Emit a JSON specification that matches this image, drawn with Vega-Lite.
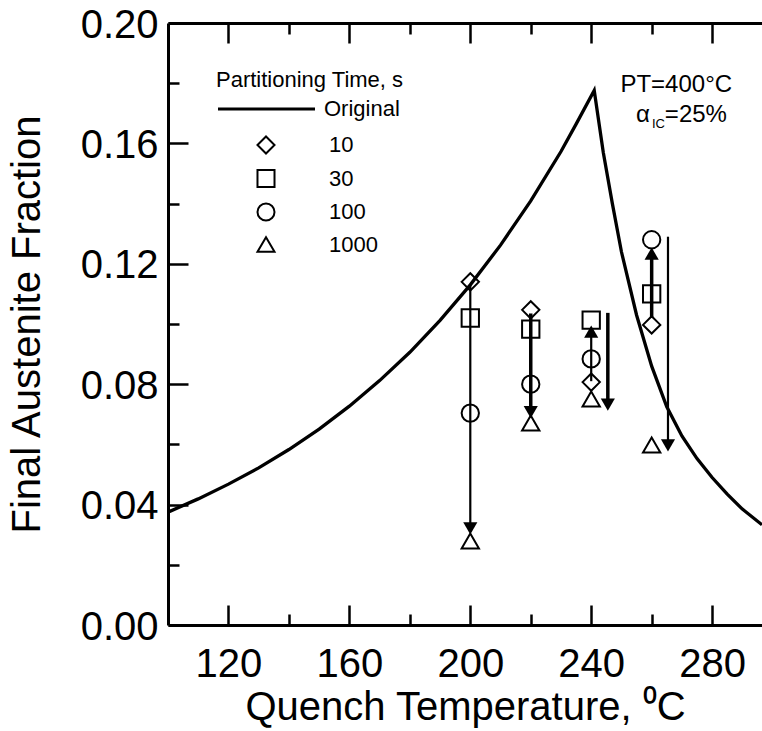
{
  "$schema": "https://vega.github.io/schema/vega-lite/v6.json",
  "width": 594,
  "height": 602,
  "autosize": {"type": "none"},
  "padding": {"left": 168, "top": 23, "right": 0, "bottom": 106},
  "background": "white",
  "config": {
    "view": {"stroke": null},
    "font": "Liberation Sans",
    "axis": {
      "grid": false,
      "domainColor": "black",
      "tickColor": "black",
      "labelColor": "black",
      "titleColor": "black",
      "labelFont": "Liberation Sans",
      "titleFont": "Liberation Sans",
      "labelFontSize": 40,
      "titleFontSize": 40,
      "titleFontWeight": "normal",
      "domainWidth": 3,
      "tickWidth": 2.5,
      "labelFlush": false,
      "labelOverlap": false
    }
  },
  "datasets": {
    "curve": [
      {"x": 100, "y": 0.0375, "series": "Original"},
      {"x": 110, "y": 0.0419, "series": "Original"},
      {"x": 120, "y": 0.0468, "series": "Original"},
      {"x": 130, "y": 0.0522, "series": "Original"},
      {"x": 140, "y": 0.0583, "series": "Original"},
      {"x": 150, "y": 0.0651, "series": "Original"},
      {"x": 160, "y": 0.0727, "series": "Original"},
      {"x": 170, "y": 0.0812, "series": "Original"},
      {"x": 180, "y": 0.0906, "series": "Original"},
      {"x": 190, "y": 0.1012, "series": "Original"},
      {"x": 200, "y": 0.1130, "series": "Original"},
      {"x": 210, "y": 0.1262, "series": "Original"},
      {"x": 220, "y": 0.1409, "series": "Original"},
      {"x": 230, "y": 0.1573, "series": "Original"},
      {"x": 235, "y": 0.1664, "series": "Original"},
      {"x": 241, "y": 0.1776, "series": "Original"},
      {"x": 244, "y": 0.1570, "series": "Original"},
      {"x": 247, "y": 0.1400, "series": "Original"},
      {"x": 250, "y": 0.1240, "series": "Original"},
      {"x": 255, "y": 0.1030, "series": "Original"},
      {"x": 260, "y": 0.0860, "series": "Original"},
      {"x": 265, "y": 0.0725, "series": "Original"},
      {"x": 270, "y": 0.0628, "series": "Original"},
      {"x": 275, "y": 0.0553, "series": "Original"},
      {"x": 280, "y": 0.0490, "series": "Original"},
      {"x": 285, "y": 0.0435, "series": "Original"},
      {"x": 290, "y": 0.0385, "series": "Original"},
      {"x": 296.5, "y": 0.0333, "series": "Original"}
    ],
    "points": [
      {"x": 200, "y": 0.114, "time": "10"},
      {"x": 200, "y": 0.102, "time": "30"},
      {"x": 200, "y": 0.0704, "time": "100"},
      {"x": 200, "y": 0.0279, "time": "1000"},
      {"x": 220, "y": 0.1047, "time": "10"},
      {"x": 220, "y": 0.0983, "time": "30"},
      {"x": 220, "y": 0.080, "time": "100"},
      {"x": 220, "y": 0.0671, "time": "1000"},
      {"x": 240, "y": 0.0807, "time": "10"},
      {"x": 240, "y": 0.1013, "time": "30"},
      {"x": 240, "y": 0.0884, "time": "100"},
      {"x": 240, "y": 0.0751, "time": "1000"},
      {"x": 260, "y": 0.0997, "time": "10"},
      {"x": 260, "y": 0.110, "time": "30"},
      {"x": 260, "y": 0.128, "time": "100"},
      {"x": 260, "y": 0.0598, "time": "1000"}
    ],
    "arrows": [
      {"x": 200, "y": 0.113, "y2": 0.0321, "weight": "thin"},
      {"x": 220, "y": 0.1035, "y2": 0.0707, "weight": "thick"},
      {"x": 240, "y": 0.081, "y2": 0.0975, "weight": "thin"},
      {"x": 245.5, "y": 0.1037, "y2": 0.0732, "weight": "thick"},
      {"x": 260, "y": 0.102, "y2": 0.1234, "weight": "thick"},
      {"x": 265.4, "y": 0.129, "y2": 0.0597, "weight": "thin"}
    ],
    "heads": [
      {"x": 200, "y": 0.0321, "dir": "down"},
      {"x": 220, "y": 0.0707, "dir": "down"},
      {"x": 240, "y": 0.0975, "dir": "up"},
      {"x": 245.5, "y": 0.0732, "dir": "down"},
      {"x": 260, "y": 0.1234, "dir": "up"},
      {"x": 265.4, "y": 0.0597, "dir": "down"}
    ],
    "notes": [
      {"x": 286.6, "y": 0.1771, "text": "PT=400°C"},
      {"x": 284.9, "y": 0.1671, "text": "=25%"},
      {"x": 259.4, "y": 0.1671, "text": "α"}
    ],
    "subnotes": [
      {"x": 264.4, "y": 0.1651, "text": "IC"}
    ]
  },
  "layer": [
    {
      "data": {"name": "curve"},
      "mark": {"type": "line", "strokeWidth": 3.3, "clip": true},
      "encoding": {
        "x": {
          "field": "x", "type": "quantitative",
          "scale": {"domain": [100, 296.5], "nice": false, "zero": false},
          "axis": {
            "orient": "bottom",
            "values": [120, 140, 160, 180, 200, 220, 240, 260, 280],
            "labelExpr": "datum.value % 40 == 0 ? datum.label : ''",
            "tickSize": {"condition": {"test": "datum.value % 40 == 0", "value": -20}, "value": -11},
            "labelPadding": 39,
            "title": "Quench Temperature, ⁰C",
            "titlePadding": -6
          }
        },
        "y": {
          "field": "y", "type": "quantitative",
          "scale": {"domain": [0, 0.2], "nice": false, "zero": true},
          "axis": {
            "values": [0, 0.02, 0.04, 0.06, 0.08, 0.1, 0.12, 0.14, 0.16, 0.18, 0.2],
            "labelExpr": "round(datum.value * 100) % 4 == 0 ? format(datum.value, '.2f') : ''",
            "tickSize": {"condition": {"test": "round(datum.value * 100) % 4 == 0", "value": -20}, "value": -11},
            "labelPadding": 30,
            "labelOffset": 2,
            "title": "Final Austenite Fraction",
            "titlePadding": 33
          }
        },
        "stroke": {
          "field": "series", "type": "nominal",
          "scale": {"range": ["black"]},
          "legend": {
            "orient": "none", "legendX": 48, "legendY": 47, "padding": 0,
            "title": "Partitioning Time, s",
            "titleFont": "Liberation Sans", "titleFontSize": 22, "titleFontWeight": "normal",
            "titleColor": "black", "titlePadding": 5, "titleLimit": 400,
            "labelFont": "Liberation Sans", "labelFontSize": 22, "labelColor": "black",
            "symbolType": "M-1,0H8.7", "symbolSize": 400, "symbolStrokeWidth": 3.2,
            "symbolStrokeColor": "black", "symbolFillColor": "transparent",
            "labelOffset": 84
          }
        }
      }
    },
    {
      "data": {"name": "arrows"},
      "mark": {"type": "rule", "color": "black"},
      "encoding": {
        "x": {"field": "x", "type": "quantitative", "axis": null},
        "y": {"field": "y", "type": "quantitative"},
        "y2": {"field": "y2"},
        "strokeWidth": {
          "field": "weight", "type": "nominal",
          "scale": {"domain": ["thin", "thick"], "range": [2.2, 3.5]},
          "legend": null
        }
      }
    },
    {
      "data": {"name": "points"},
      "mark": {"type": "point", "filled": false, "color": "black", "strokeWidth": 2, "opacity": 1, "size": 300},
      "encoding": {
        "x": {
          "field": "x", "type": "quantitative",
          "axis": {
            "orient": "top",
            "values": [120, 140, 160, 180, 200, 220, 240, 260, 280],
            "labels": false,
            "title": null,
            "tickSize": {"condition": {"test": "datum.value % 40 == 0", "value": -20}, "value": -11}
          }
        },
        "y": {"field": "y", "type": "quantitative"},
        "shape": {
          "field": "time", "type": "nominal",
          "scale": {"domain": ["10", "30", "100", "1000"], "range": ["diamond", "square", "circle", "triangle-up"]},
          "legend": {
            "orient": "none", "legendX": 87, "legendY": 111, "padding": 0,
            "title": null,
            "labelFont": "Liberation Sans", "labelFontSize": 22, "labelColor": "black",
            "symbolSize": 290, "symbolStrokeWidth": 2, "symbolStrokeColor": "black",
            "symbolFillColor": "transparent", "labelOffset": 52, "rowPadding": 7.5
          }
        }
      }
    },
    {
      "data": {"name": "heads"},
      "transform": [{"filter": "datum.dir === 'down'"}],
      "mark": {"type": "point", "shape": "triangle-down", "filled": true, "color": "black", "size": 200, "opacity": 1},
      "encoding": {
        "x": {"field": "x", "type": "quantitative", "axis": null},
        "y": {"field": "y", "type": "quantitative"}
      }
    },
    {
      "data": {"name": "heads"},
      "transform": [{"filter": "datum.dir === 'up'"}],
      "mark": {"type": "point", "shape": "triangle-up", "filled": true, "color": "black", "size": 200, "opacity": 1},
      "encoding": {
        "x": {"field": "x", "type": "quantitative", "axis": null},
        "y": {"field": "y", "type": "quantitative"}
      }
    },
    {
      "data": {"name": "notes"},
      "mark": {"type": "text", "align": "right", "baseline": "alphabetic", "fontSize": 24, "font": "Liberation Sans", "color": "black"},
      "encoding": {
        "x": {"field": "x", "type": "quantitative", "axis": null},
        "y": {"field": "y", "type": "quantitative"},
        "text": {"field": "text"}
      }
    },
    {
      "data": {"name": "subnotes"},
      "mark": {"type": "text", "align": "right", "baseline": "alphabetic", "fontSize": 13, "font": "Liberation Sans", "color": "black"},
      "encoding": {
        "x": {"field": "x", "type": "quantitative", "axis": null},
        "y": {"field": "y", "type": "quantitative"},
        "text": {"field": "text"}
      }
    }
  ],
  "resolve": {"axis": {"x": "independent"}}
}
